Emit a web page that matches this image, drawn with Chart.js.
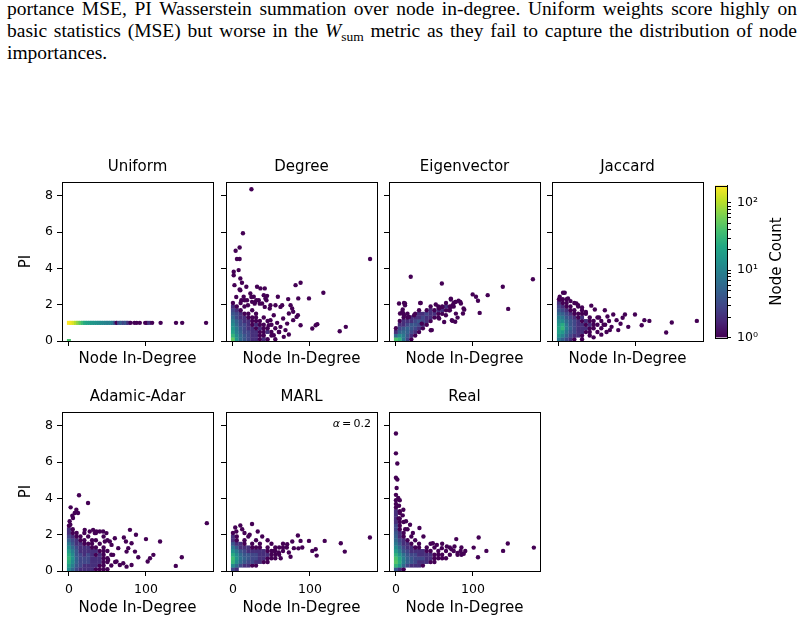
<!DOCTYPE html>
<html>
<head>
<meta charset="utf-8">
<script src="https://cdn.jsdelivr.net/npm/chart.js@4.4.1/dist/chart.umd.min.js"></script>
<style>
body { margin: 0; background: #fff; }
#fig { position: relative; width: 805px; height: 622px; overflow: hidden; background: #fff; }
.cap { position: absolute; left: 7px; width: 790px; font-family: "Liberation Serif", serif; font-size: 19.5px; line-height: 22px; color: #000; }
.just { text-align: justify; text-align-last: justify; }
.cap sub { font-size: 13.5px; line-height: 0; vertical-align: -4px; }
canvas { position: absolute; }
</style>
</head>
<body>
<div id="fig">
  <div class="cap just" style="top:-2px">portance MSE, PI Wasserstein summation over node in-degree. Uniform weights score highly on</div>
  <div class="cap just" style="top:20px">basic statistics (MSE) but worse in the <i>W</i><sub>sum</sub> metric as they fail to capture the distribution of node</div>
  <div class="cap" style="top:42px">importances.</div>
</div>
<script>
// panel data: [node in-degree, PI, node count of the hex cell]
var panelNames = ['Uniform', 'Degree', 'Eigenvector', 'Jaccard', 'Adamic-Adar', 'MARL', 'Real'];
var xTicks = [0, 100];
var yTicks = [0, 2, 4, 6, 8];
var cbTicks = [1, 2, 3, 4, 5, 6, 7, 8, 9, 10, 20, 30, 40, 50, 60, 70, 80, 90, 100];
var cbLabels = {1: '10\u2070', 10: '10\u00b9', 100: '10\u00b2'};
var cbMax = 182;
var marlAlpha = 0.2;

var uniformPts = [
  [0,0,40],
  [0,1,180],[3,1,170],[6,1,140],[9,1,100],[12,1,70],[15,1,50],[18,1,35],[21,1,24],[24,1,20],[27,1,18],
  [30,1,16],[33,1,15],[36,1,14],[39,1,13],[42,1,12],[45,1,11],[48,1,10],[51,1,9],[54,1,10],[57,1,8],
  [60,1,4],[62,1,1],[65,1,3],[68,1,5],[71,1,3],[74,1,4],[77,1,2],[80,1,1],[85,1,1],[88,1,1],[92,1,1],
  [99,1,1],[101,1,1],[104,1,2],[108,1,1],[119,1,1],[139,1,1],[147,1,1],[178,1,1]
];

var degreePts = [
  [0,.1,50],[5,.1,15],[10,.1,6],[15,.1,4],[20,.1,3],[25,.1,2],[30,.1,2],[35,.1,1],[40,.1,2],[45,.1,1],[55,.1,1],
  [0,.3,30],[5,.3,12],[10,.3,6],[15,.3,4],[20,.3,3],[25,.3,2],[30,.3,2],[35,.3,1],[40,.3,1],[50,.3,1],
  [0,.5,20],[5,.5,9],[10,.5,5],[15,.5,3],[20,.5,3],[25,.5,2],[30,.5,2],[35,.5,1],[40,.5,1],[45,.5,2],[50,.5,1],[60,.5,1],
  [0,.7,15],[5,.7,8],[10,.7,4],[15,.7,3],[20,.7,2],[25,.7,2],[30,.7,1],[35,.7,2],[40,.7,1],[45,.7,1],[55,.7,1],
  [0,.9,12],[5,.9,6],[10,.9,3],[15,.9,3],[20,.9,2],[25,.9,1],[30,.9,2],[35,.9,1],[40,.9,1],[50,.9,1],
  [0,1.1,9],[5,1.1,5],[10,1.1,3],[15,1.1,2],[20,1.1,2],[25,1.1,1],[30,1.1,1],[35,1.1,1],[45,1.1,1],
  [0,1.3,6],[5,1.3,3],[10,1.3,2],[15,1.3,2],[20,1.3,1],[25,1.3,1],[30,1.3,1],[40,1.3,1],
  [0,1.5,4],[5,1.5,3],[10,1.5,2],[15,1.5,1],[20,1.5,1],[30,1.5,1],
  [0,1.7,3],[5,1.7,2],[10,1.7,1],[25,1.7,1],
  [0,1.9,2],[5,1.9,1],[15,1.9,1],[0,2.1,1],[10,2.1,1],
  [24,8.37,1],[13,5.94,1],[8.7,5.16,1],[3.5,4.98,1],[5.2,4.52,1],[8.7,4.52,1],[1,3.82,1],[1,3.63,1],
  [7.4,3.91,1],[9.6,3.45,1],[11.7,3.21,1],[178,4.52,1],[2,3.08,1],[17.4,2.99,1],[31.3,2.99,1],
  [35.7,2.9,1],[41.3,2.9,1],[81.3,3.08,1],[87.8,3.21,1],[117.4,2.66,1],[98.7,2.35,1],[84.8,2.35,1],
  [71.7,2.31,1],[58.3,2.44,1],[22.6,2.62,1],[27,2.44,1],[24.8,2.16,1],[29.1,2.16,1],[33.5,2.25,1],
  [40,2.53,1],[44.3,2.49,1],[42.2,2.35,1],[37.8,2.07,1],[18.3,2.25,1],[13.9,2.44,1],[9.6,2.8,1],
  [48.7,1.97,1],[55.2,1.97,1],[61.7,1.88,1],[63.9,1.97,1],[74.8,1.97,1],[76.9,1.79,1],[78.2,1.61,1],
  [72.6,1.52,1],[84.3,1.42,1],[82.6,1.33,1],[103,0.69,1],[107.4,0.87,1],[109.5,0.93,1],[138.6,0.54,1],
  [146.5,0.78,1],[87.8,0.87,1],[78.2,1.15,1],[68.2,0.6,1],[72.6,0.36,1],[57.4,1.0,1],[61.7,0.78,1],
  [53,1.42,1],[48.7,1.15,1],[46.5,0.87,1],[65.2,1.24,1],[70.4,0.96,1],[59.6,0.5,1],[53,0.32,1],[66,0.23,1],
  [8.7,2.84,1],[4.3,2.43,1],[10.9,2.25,1],[15.2,2.25,1],[23.9,2.43,1],[30.4,2.25,1],[34.8,2.06,1],
  [28.2,2.06,1],[19.5,1.97,1],[43.5,2.25,1],[41.3,1.88,1],[47.8,1.79,1]
];

var eigenPts = [
  [0,.1,40],[5,.1,30],[10,.1,8],[15,.1,3],[20,.1,1],
  [0,.3,6],[5,.3,12],[10,.3,8],[15,.3,4],[20,.3,2],[25,.3,1],
  [0,.5,2],[5,.5,5],[10,.5,6],[15,.5,5],[20,.5,3],[25,.5,2],[30,.5,1],
  [0,.7,1],[5,.7,3],[10,.7,4],[15,.7,5],[20,.7,4],[25,.7,3],[30,.7,2],[35,.7,1],
  [5,.9,2],[10,.9,2],[15,.9,3],[20,.9,4],[25,.9,4],[30,.9,3],[35,.9,2],[40,.9,1],
  [5,1.1,1],[10,1.1,2],[15,1.1,2],[20,1.1,2],[25,1.1,3],[30,1.1,4],[35,1.1,3],[40,1.1,2],[45,1.1,1],
  [10,1.3,1],[15,1.3,1],[20,1.3,2],[25,1.3,2],[30,1.3,2],[35,1.3,3],[40,1.3,2],[45,1.3,2],[50,1.3,1],[55,1.3,1],
  [15,1.5,1],[25,1.5,1],[30,1.5,2],[35,1.5,2],[40,1.5,3],[45,1.5,2],[50,1.5,2],[55,1.5,1],[60,1.5,1],
  [30,1.7,1],[40,1.7,1],[45,1.7,2],[50,1.7,1],[55,1.7,2],[60,1.7,2],[65,1.7,1],[70,1.7,1],
  [45,1.9,1],[55,1.9,1],[60,1.9,1],[65,1.9,2],[70,1.9,1],[75,1.9,1],[65,2.1,1],[75,2.1,1],
  [19.2,3.54,1],[59.6,3.17,1],[177.8,3.41,1],[138.7,2.99,1],[119.1,2.53,1],[99.6,2.57,1],[103.9,2.44,1],
  [106.5,2.22,1],[145.7,1.77,1],[108.7,1.55,1],[4,2.07,1],[11.8,2.07,1],[31.4,2.1,1],[8.8,1.74,1],
  [9.6,1.52,1],[5.3,1.52,1],[71.3,2.34,1],[77,2.16,1],[81.3,2.22,1],[83.5,2.16,1],[87.8,1.79,1],
  [87,1.52,1],[72.6,1.15,1],[77,1.06,1],[46.6,0.6,1],[33.5,0.96,1],
  [10.5,2.1,1],[11.8,1.97,1],[8.3,1.61,1],[10.5,1.42,1],[17,1.33,1],[23.5,1.42,1],[32.2,2.1,1],
  [51.7,2.01,1],[56.1,1.79,1],[60.4,1.88,1],[71.3,2.29,1],[77.8,2.16,1],[84.3,2.07,1],[73.5,1.97,1],
  [69.1,1.7,1],[77.8,1.51,1],[80,1.29,1],[73.5,1.11,1],[64.8,1.42,1],[62.6,1.05,1],[45.2,0.59,1],
  [56.1,1.24,1],[88.7,1.73,1],[71.3,1.88,1]
];

var jaccardPts = [
  [0,.1,8],[5,.1,5],[10,.1,3],[15,.1,2],[20,.1,1],[30,.1,1],
  [0,.3,14],[5,.3,10],[10,.3,5],[15,.3,3],[20,.3,2],[25,.3,2],[30,.3,1],[40,.3,1],
  [0,.5,18],[5,.5,16],[10,.5,7],[15,.5,4],[20,.5,3],[25,.5,2],[30,.5,2],[35,.5,1],[40,.5,1],[50,.5,1],
  [0,.7,20],[5,.7,30],[10,.7,9],[15,.7,5],[20,.7,3],[25,.7,2],[30,.7,2],[35,.7,2],[40,.7,1],[45,.7,1],[55,.7,1],
  [0,.9,16],[5,.9,25],[10,.9,8],[15,.9,4],[20,.9,3],[25,.9,2],[30,.9,2],[35,.9,1],[40,.9,2],[45,.9,1],[50,.9,1],[60,.9,1],
  [0,1.1,12],[5,1.1,12],[10,1.1,6],[15,1.1,4],[20,1.1,3],[25,1.1,2],[30,1.1,1],[35,1.1,2],[40,1.1,1],[45,1.1,1],[55,1.1,1],
  [0,1.3,9],[5,1.3,8],[10,1.3,4],[15,1.3,3],[20,1.3,2],[25,1.3,1],[30,1.3,2],[40,1.3,1],[50,1.3,1],
  [0,1.5,6],[5,1.5,5],[10,1.5,3],[15,1.5,2],[20,1.5,1],[25,1.5,1],[30,1.5,1],[35,1.5,1],
  [0,1.7,4],[5,1.7,3],[10,1.7,2],[15,1.7,1],[20,1.7,1],[30,1.7,1],
  [0,1.9,3],[5,1.9,2],[10,1.9,1],[15,1.9,1],[25,1.9,1],
  [0,2.1,2],[5,2.1,1],[10,2.1,1],[20,2.1,1],[0,2.3,1],[5,2.3,1],[10,2.3,1],
  [179,1.11,1],[146.5,1.02,1],[139.2,0.47,1],[117.4,1.11,1],[110.9,1.15,1],[107.4,0.87,1],[98.7,1.46,1],
  [90,0.78,1],[85.7,1.46,1],[82.7,1.28,1],[70.5,1.46,1],[74.8,1.15,1],[59.6,1.7,1],[46.6,1.74,1],
  [5.3,2.66,1],[7.5,2.66,1],[1,2.44,1],[1.8,2.29,1],[11.8,2.35,1],[22.7,2.07,1],[24.9,1.98,1],
  [66.1,0.6,1],[68.3,0.78,1],[61.8,0.5,1],[80,0.95,1],[77,0.6,1],[65,1.1,1],[58,0.9,1],[52,1.3,1],
  [63,1.35,1],[55,0.35,1],[45,0.2,1],[15,2.2,1],[30,1.85,1],[35,1.6,1],[42,1.95,1]
];

var adamicPts = [
  [0,.1,12],[5,.1,6],[10,.1,3],[15,.1,2],[20,.1,2],[25,.1,2],[30,.1,2],[35,.1,1],[40,.1,1],[45,.1,1],[50,.1,1],
  [0,.3,18],[5,.3,9],[10,.3,4],[15,.3,3],[20,.3,2],[25,.3,2],[30,.3,2],[35,.3,2],[40,.3,1],[45,.3,1],[55,.3,1],
  [0,.5,25],[5,.5,12],[10,.5,5],[15,.5,3],[20,.5,3],[25,.5,3],[30,.5,2],[35,.5,2],[40,.5,2],[45,.5,1],[50,.5,1],[60,.5,1],
  [0,.7,30],[5,.7,14],[10,.7,5],[15,.7,3],[20,.7,3],[25,.7,3],[30,.7,2],[35,.7,2],[40,.7,2],[45,.7,1],[50,.7,1],
  [0,.9,25],[5,.9,12],[10,.9,4],[15,.9,3],[20,.9,2],[25,.9,3],[30,.9,2],[35,.9,1],[40,.9,2],[45,.9,1],[55,.9,1],
  [0,1.1,18],[5,1.1,9],[10,1.1,4],[15,1.1,2],[20,1.1,2],[25,1.1,2],[30,1.1,2],[35,1.1,2],[40,1.1,1],[45,1.1,1],[50,1.1,1],
  [0,1.3,12],[5,1.3,6],[10,1.3,3],[15,1.3,2],[20,1.3,2],[25,1.3,2],[30,1.3,1],[35,1.3,1],[45,1.3,1],
  [0,1.5,8],[5,1.5,4],[10,1.5,2],[15,1.5,2],[20,1.5,1],[25,1.5,1],[30,1.5,1],[40,1.5,1],
  [0,1.7,5],[5,1.7,3],[10,1.7,2],[15,1.7,1],[20,1.7,1],[30,1.7,1],[35,1.7,1],[50,1.7,1],
  [0,1.9,3],[5,1.9,2],[10,1.9,1],[15,1.9,1],[25,1.9,1],[45,1.9,1],
  [0,2.1,2],[5,2.1,1],[10,2.1,1],[20,2.1,1],[35,2.1,1],[0,2.3,2],[5,2.3,1],[0,2.5,1],
  [179,2.64,1],[13.1,4.18,1],[24.8,3.75,1],[2.2,3.51,1],[9.6,3.38,1],[7.5,3.2,1],[11.8,3.2,1],[4.4,3.05,1],
  [5.3,2.92,1],[0.9,2.74,1],[1.8,2.55,1],[79.2,2.27,1],[87,2.0,1],[71.3,1.85,1],[74,1.63,1],[100,1.76,1],
  [118.3,1.63,1],[109.6,0.89,1],[105.2,0.7,1],[102.2,0.52,1],[138.7,0.28,1],[146.5,0.76,1],[90,0.76,1],
  [85.7,1.07,1],[40,2.18,1],[44.4,2.18,1],[33.5,2.09,1],[20.5,2.27,1],[27,2.18,1],[31.4,2.27,1],[64,1.26,1],
  [81.3,1.53,1],[77,1.26,1],[74.8,1.07,1],[59.6,1.81,1],[53.1,1.63,1],[55.3,1.44,1],[61.8,0.52,1],
  [66.1,0.33,1],[70.5,0.43,1],[74.8,0.24,1],[81.3,0.33,1],[48.7,2.09,1],[35.7,2.18,1],[46.6,1.63,1],
  [57.4,0.89,1],[50.9,0.61,1]
];

var marlPts = [
  [0,.1,3],[5,.1,2],
  [0,.3,12],[5,.3,6],[10,.3,3],[15,.3,2],[20,.3,2],[25,.3,1],[30,.3,1],
  [0,.5,30],[5,.5,12],[10,.5,6],[15,.5,4],[20,.5,3],[25,.5,3],[30,.5,2],[35,.5,2],[40,.5,1],[45,.5,1],
  [0,.7,35],[5,.7,15],[10,.7,7],[15,.7,5],[20,.7,4],[25,.7,3],[30,.7,3],[35,.7,2],[40,.7,2],[45,.7,1],[50,.7,1],[55,.7,1],
  [0,.9,25],[5,.9,12],[10,.9,6],[15,.9,4],[20,.9,4],[25,.9,3],[30,.9,3],[35,.9,2],[40,.9,2],[45,.9,2],[50,.9,1],[55,.9,1],[60,.9,1],
  [0,1.1,14],[5,1.1,8],[10,1.1,4],[15,1.1,3],[20,1.1,2],[25,1.1,2],[30,1.1,2],[35,1.1,2],[40,1.1,2],[45,1.1,1],[50,1.1,1],[55,1.1,1],[65,1.1,1],
  [0,1.3,8],[5,1.3,4],[10,1.3,2],[15,1.3,2],[20,1.3,2],[25,1.3,1],[30,1.3,1],[35,1.3,1],[45,1.3,1],[55,1.3,1],[60,1.3,1],[70,1.3,1],
  [0,1.5,4],[5,1.5,2],[10,1.5,2],[15,1.5,1],[25,1.5,1],[35,1.5,1],[50,1.5,1],[65,1.5,1],
  [0,1.7,2],[5,1.7,1],[15,1.7,1],[30,1.7,1],[0,1.9,2],[5,1.9,1],[20,1.9,1],[0,2.1,1],
  [177.8,1.85,1],[140,1.53,1],[145.2,1.07,1],[119.1,1.66,1],[98.7,1.66,1],[103,1.11,1],[107.4,1.2,1],
  [108.7,0.85,1],[84.3,1.96,1],[87.8,1.66,1],[24.8,2.59,1],[9.6,2.51,1],[3,2.4,1],[32.2,2.18,1],
  [21.7,2.0,1],[4.4,2.18,1],[70.4,1.48,1],[77,1.63,1],[79.1,1.26,1],[72.6,1.02,1],[74.8,0.79,1],
  [53,1.11,1],[59.6,1.02,1],[65,1.3,1],[62,0.7,1],[85,1.25,1],[90,1.3,1],[45,1.7,1],[38,1.9,1],
  [15,2.1,1],[12,2.3,1]
];

var realPts = [
  [0,.1,4],[5,.1,2],[10,.1,1],
  [0,.3,30],[5,.3,16],[10,.3,6],[15,.3,3],[20,.3,2],[25,.3,2],[30,.3,2],[35,.3,1],
  [0,.5,45],[5,.5,25],[10,.5,9],[15,.5,5],[20,.5,4],[25,.5,3],[30,.5,2],[35,.5,2],[40,.5,2],[45,.5,1],[50,.5,1],
  [0,.7,40],[5,.7,22],[10,.7,9],[15,.7,5],[20,.7,4],[25,.7,3],[30,.7,3],[35,.7,3],[40,.7,2],[45,.7,2],[50,.7,1],[55,.7,1],[60,.7,1],[65,.7,1],
  [0,.9,28],[5,.9,14],[10,.9,7],[15,.9,4],[20,.9,3],[25,.9,3],[30,.9,2],[35,.9,2],[40,.9,2],[45,.9,2],[50,.9,1],[55,.9,1],[60,.9,1],[70,.9,1],[80,.9,1],[85,.9,1],
  [0,1.1,18],[5,1.1,9],[10,1.1,4],[15,1.1,3],[20,1.1,2],[25,1.1,2],[30,1.1,2],[35,1.1,2],[40,1.1,1],[45,1.1,1],[55,1.1,1],[65,1.1,1],[75,1.1,1],[90,1.1,1],
  [0,1.3,12],[5,1.3,6],[10,1.3,3],[15,1.3,2],[20,1.3,2],[25,1.3,1],[30,1.3,1],[40,1.3,1],[50,1.3,1],[70,1.3,1],[85,1.3,1],
  [0,1.5,8],[5,1.5,4],[10,1.5,2],[15,1.5,2],[20,1.5,1],[30,1.5,1],[45,1.5,1],[60,1.5,1],
  [0,1.7,6],[5,1.7,3],[10,1.7,2],[15,1.7,1],[25,1.7,1],
  [0,1.9,5],[5,1.9,2],[10,1.9,1],[20,1.9,1],
  [0,2.1,4],[5,2.1,2],[10,2.1,1],[0,2.3,3],[5,2.3,1],[15,2.3,1],[0,2.5,3],[5,2.5,1],
  [0,2.7,2],[5,2.7,1],[10,2.7,1],[0,2.9,2],[5,2.9,1],[0,3.1,2],[0,3.3,2],[5,3.3,1],[0,3.5,1],[0,3.7,1],[0,3.9,1],[5,3.9,1],
  [0,7.58,1],[0,6.49,1],[1.8,5.93,1],[0,5.14,1],[1.8,5.05,1],[0.9,4.58,1],[3,4.03,1],[0,4.2,1],
  [9.6,3.38,1],[8.8,3.07,1],[13.1,2.74,1],[18.3,2.55,1],[30.5,2.37,1],[179,1.29,1],[145.2,1.52,1],
  [139.1,1.11,1],[117.4,1.11,1],[107.4,1.85,1],[100.9,1.29,1],[106.5,0.76,1],[78.3,1.76,1],[47.9,1.53,1],
  [53.1,1.44,1],[59.6,1.26,1],[66.1,1.35,1],[35.7,1.9,1],[72,1.2,1],[80,1.0,1],[84,1.1,1],[88,0.95,1],
  [76,1.35,1],[4,3.6,1],[5,3.2,1],[3.5,2.9,1],[12,2.3,1],[22,2.1,1]
];

var panelData = [uniformPts, degreePts, eigenPts, jaccardPts, adamicPts, marlPts, realPts];

var FONT = '"DejaVu Sans", sans-serif';
var viridisStops = ['#440154','#482475','#414487','#355f8d','#2a788e','#21918c','#22a884','#44bf70','#7ad151','#bddf26','#fde725'];

function hexRgb(h) {
  return [parseInt(h.slice(1,3),16), parseInt(h.slice(3,5),16), parseInt(h.slice(5,7),16)];
}
function viridis(t) {
  t = Math.max(0, Math.min(1, t));
  var f = t * 10, i = Math.min(9, Math.floor(f)), u = f - i;
  var a = hexRgb(viridisStops[i]), b = hexRgb(viridisStops[i + 1]);
  return 'rgb(' + [0,1,2].map(function(k){ return Math.round(a[k] + (b[k] - a[k]) * u); }).join(',') + ')';
}

// black box round the plot area, like matplotlib spines
var frame = {
  id: 'frame',
  afterDraw: function(chart) {
    var a = chart.chartArea, ctx = chart.ctx;
    ctx.save();
    ctx.strokeStyle = '#000';
    ctx.lineWidth = 1;
    ctx.strokeRect(Math.round(a.left) + 0.5, Math.round(a.top) + 0.5, Math.round(a.right - a.left), Math.round(a.bottom - a.top));
    ctx.restore();
  }
};

var alphaNote = {
  id: 'alphaNote',
  afterDraw: function(chart) {
    var a = chart.chartArea, ctx = chart.ctx;
    ctx.save();
    ctx.fillStyle = '#000';
    ctx.textBaseline = 'middle';
    ctx.textAlign = 'right';
    ctx.font = '11px ' + FONT;
    var rest = '\u2009=\u2009' + marlAlpha;
    var x = a.right - 6, y = a.top + 12;
    ctx.fillText(rest, x, y);
    var w = ctx.measureText(rest).width;
    ctx.font = 'italic 11px ' + FONT;
    ctx.fillText('\u03b1', x - w, y);
    ctx.restore();
  }
};

var colLeft = [62, 226, 389, 552];
var rowTop = [182, 412];
var plotW = 151, plotH = 159, yAxisW = 50, titleH = 32;
var fig = document.getElementById('fig');

function addCanvas(left, top, w, h) {
  var c = document.createElement('canvas');
  c.width = w; c.height = h;
  c.style.left = left + 'px'; c.style.top = top + 'px';
  c.style.width = w + 'px'; c.style.height = h + 'px';
  fig.appendChild(c);
  return c;
}

panelNames.forEach(function(name, idx) {
  var col = idx % 4, row = Math.floor(idx / 4);
  var xAxisH = row ? 50 : 30;
  var canvas = addCanvas(colLeft[col] - yAxisW, rowTop[row] - titleH, yAxisW + plotW + 4, titleH + plotH + xAxisH);
  new Chart(canvas, {
    type: 'scatter',
    data: {
      datasets: [{
        data: panelData[idx].map(function(p){ return {x: p[0], y: p[1], n: p[2]}; }),
        backgroundColor: function(c) { return viridis(Math.log10(c.raw.n) / Math.log10(cbMax)); },
        pointStyle: function(c) { return c.raw.n > 1 ? 'rect' : 'circle'; },
        pointRadius: function(c) { return c.raw.n > 1 ? 2.85 : 2.2; },
        borderWidth: 0,
        clip: 0
      }]
    },
    options: {
      responsive: false,
      animation: false,
      devicePixelRatio: 1,
      events: [],
      layout: {padding: {left: 0, right: 4, top: 0, bottom: 0}},
      plugins: {
        legend: {display: false},
        tooltip: {enabled: false},
        title: {
          display: true, text: name, fullSize: false, color: '#000',
          font: {family: FONT, size: 15, weight: 'normal'},
          padding: {top: 8, bottom: 6}
        }
      },
      scales: {
        x: {
          type: 'linear', min: -9, max: 187,
          afterBuildTicks: function(s) { s.ticks = xTicks.map(function(v){ return {value: v}; }); },
          afterFit: function(s) { s.height = xAxisH; },
          grid: {drawOnChartArea: false, drawTicks: true, tickLength: 5, tickColor: '#000', tickWidth: 1},
          border: {display: true, color: '#000', width: 1},
          ticks: {display: row === 1, color: '#000', font: {family: FONT, size: 12.5}, padding: 6.5, maxRotation: 0, autoSkip: false},
          title: {display: true, text: 'Node In-Degree', color: '#000', font: {family: FONT, size: 15}, padding: {top: 0, bottom: row ? 4.3 : 3}}
        },
        y: {
          type: 'linear', min: 0, max: 8.77,
          afterBuildTicks: function(s) { s.ticks = yTicks.map(function(v){ return {value: v}; }); },
          afterFit: function(s) { s.width = yAxisW; },
          grid: {drawOnChartArea: false, drawTicks: true, tickLength: 5, tickColor: '#000', tickWidth: 1},
          border: {display: true, color: '#000', width: 1},
          ticks: {display: col === 0, color: '#000', font: {family: FONT, size: 12.5}, padding: 4, autoSkip: false},
          title: {display: col === 0, text: 'PI', color: '#000', font: {family: FONT, size: 15}, padding: {top: 5, bottom: 0}}
        }
      }
    },
    plugins: name === 'MARL' ? [frame, alphaNote] : [frame]
  });
});

// colorbar
var cbLabelPlugin = {
  id: 'cbLabel',
  afterDraw: function(chart) {
    var a = chart.chartArea, ctx = chart.ctx;
    ctx.save();
    ctx.fillStyle = '#000';
    ctx.font = '15px ' + FONT;
    ctx.textAlign = 'center';
    ctx.textBaseline = 'middle';
    ctx.translate(62, (a.top + a.bottom) / 2);
    ctx.rotate(-Math.PI / 2);
    ctx.fillText('Node Count', 0, 0);
    ctx.restore();
  }
};
var cbCanvas = addCanvas(715, rowTop[0] - 10, 90, plotH + 20);
new Chart(cbCanvas, {
  type: 'bar',
  data: {
    labels: [''],
    datasets: [{
      data: [[1, cbMax]],
      backgroundColor: function(c) {
        var a = c.chart.chartArea;
        if (!a) return viridisStops[5];
        var g = c.chart.ctx.createLinearGradient(0, a.bottom, 0, a.top);
        viridisStops.forEach(function(s, i){ g.addColorStop(i / 10, s); });
        return g;
      },
      borderWidth: 0,
      categoryPercentage: 1,
      barPercentage: 1
    }]
  },
  options: {
    responsive: false,
    animation: false,
    devicePixelRatio: 1,
    events: [],
    layout: {padding: {left: 0, right: 0, top: 10, bottom: 10}},
    plugins: {legend: {display: false}, tooltip: {enabled: false}},
    scales: {
      x: {display: false},
      y: {
        type: 'logarithmic', position: 'right', min: 1, max: cbMax,
        afterBuildTicks: function(s) { s.ticks = cbTicks.map(function(v){ return {value: v}; }); },
        afterFit: function(s) { s.width = 78; },
        grid: {drawOnChartArea: false, drawTicks: true, tickLength: 4, tickColor: '#000', tickWidth: 1},
        border: {display: true, color: '#000', width: 1},
        ticks: {
          color: '#000', font: {family: FONT, size: 12.5}, padding: 6, autoSkip: false,
          callback: function(v) { return cbLabels[v] || ''; }
        }
      }
    }
  },
  plugins: [frame, cbLabelPlugin]
});
</script>
</body>
</html>
